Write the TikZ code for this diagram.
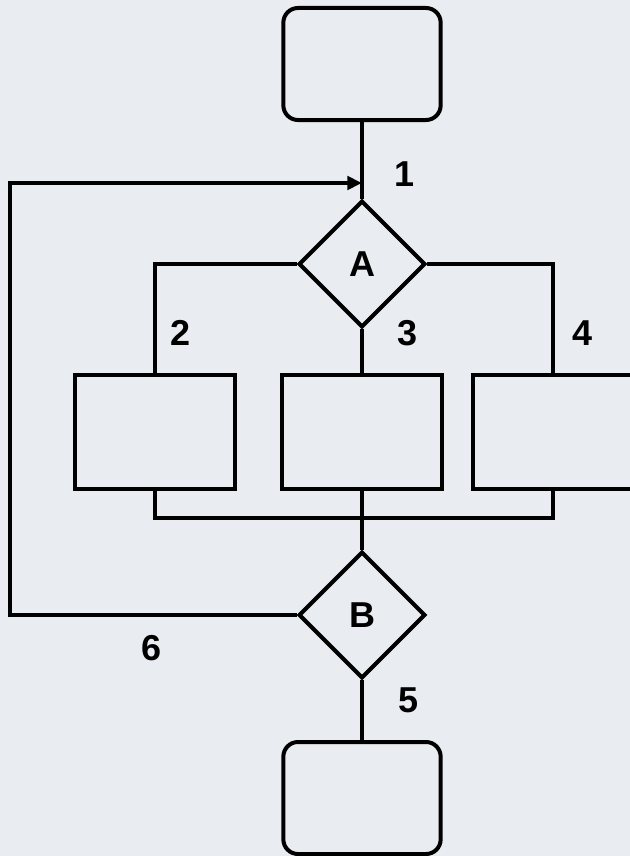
\documentclass[tikz,border=0pt]{standalone}
\usepackage{fontspec}
\setmainfont{Liberation Sans}
\usetikzlibrary{shapes.geometric, arrows.meta}

\definecolor{bgcol}{RGB}{233,236,240}

\begin{document}
\begin{tikzpicture}[
    x=0.75pt, y=-0.75pt,
    font=\bfseries\fontsize{27}{29}\selectfont,
    terminal/.style={rectangle, draw=black, line width=3pt, rounded corners=11pt, minimum width=118pt, minimum height=84pt},
    stepbox/.style={rectangle, draw=black, line width=3pt, minimum width=120pt, minimum height=86pt},
    decision/.style={diamond, draw=black, line width=3pt, aspect=1, inner sep=0pt, minimum width=95pt, minimum height=95pt},
    flow/.style={line width=3pt, draw=black},
    arrow/.style={-{Triangle[length=11pt, width=10pt]}, line width=3pt, draw=black}
]
\fill[bgcol] (0,0) rectangle (630,856);
\useasboundingbox (0,0) rectangle (630,856);

% Terminals
\node[terminal] (start) at (362,64) {};
\node[terminal] (stop) at (362,798) {};

% Decisions
\node[decision] (decA) at (362,264) {A};
\node[decision] (decB) at (362,615) {B};

% Process boxes
\node[stepbox] (box2) at (155,432) {};
\node[stepbox] (box3) at (362,432) {};
\node[stepbox] (box4) at (553,432) {};

% Labels
\node (lab1) at (405,174) {1};
\node (lab2) at (181,333) {2};
\node (lab3) at (408,333) {3};
\node (lab4) at (583,333) {4};
\node (lab5) at (409,700) {5};
\node (lab6) at (152,648) {6};

\coordinate (back) at (10,183);
\coordinate (merge) at (362,518);

% Connectors
\draw[flow] (start.south) -- (decA.north);
\draw[flow] (decA.west) -| (box2.north);
\draw[flow] (decA.south) -- (box3.north);
\draw[flow] (decA.east) -| (box4.north);
\draw[flow] (box2.south) |- (merge) -| (box4.south);
\draw[flow] (box3.south) -- (decB.north);
\draw[flow] (decB.south) -- (stop.north);
\draw[arrow] (decB.west) -| (back) -- (back -| start.south);

\end{tikzpicture}
\end{document}
